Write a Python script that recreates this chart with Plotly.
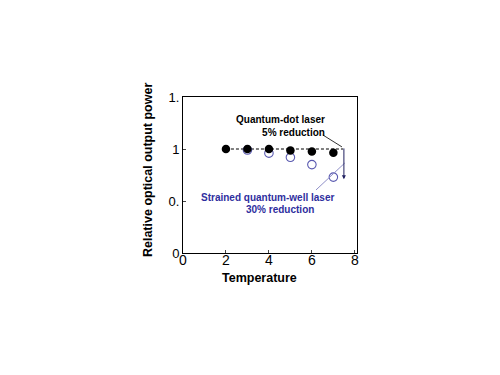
import plotly.graph_objects as go

temps_dot = [2, 3, 4, 5, 6, 7]
power_dot = [1.0, 1.0, 1.0, 0.985, 0.975, 0.965]
temps_well = [3, 4, 5, 6, 7]
power_well = [0.99, 0.96, 0.92, 0.85, 0.73]
x_ticks = [0, 2, 4, 6, 8]
y_ticks = [0, 0.5, 1, 1.5]
y_ticktext = ["0", "0.", "1", "1."]

fig = go.Figure()
fig.add_trace(go.Scatter(x=[2, 7.45], y=[1, 1], mode="lines",
                         line=dict(color="black", width=1, dash="3px,2px"),
                         hoverinfo="skip", showlegend=False))
fig.add_trace(go.Scatter(x=temps_well, y=power_well, mode="markers",
                         marker=dict(size=8.5, color="rgba(0,0,0,0)",
                                     line=dict(color="#5a5ab0", width=1.1)),
                         showlegend=False))
fig.add_trace(go.Scatter(x=temps_dot, y=power_dot, mode="markers",
                         marker=dict(size=8.5, color="black"),
                         showlegend=False))

font_b = "Liberation Sans, Arial, sans-serif"
fig.add_annotation(x=6.70, y=1.226, xref="x", yref="y",
                   text="<b>Quantum-dot laser</b><br><b>5% reduction</b>",
                   showarrow=False, xanchor="right", yanchor="middle", align="right",
                   font=dict(family=font_b, size=10, color="black"))
fig.add_annotation(x=3.93, y=0.538, xref="x", yref="y",
                   text="<b>Strained quantum-well laser</b>",
                   showarrow=False, xanchor="center", yanchor="middle",
                   font=dict(family=font_b, size=10, color="#2e2e9e"))
fig.add_annotation(x=4.51, y=0.423, xref="x", yref="y",
                   text="<b>30% reduction</b>",
                   showarrow=False, xanchor="center", yanchor="middle",
                   font=dict(family=font_b, size=10, color="#2e2e9e"))
# leader lines
fig.add_shape(type="line", xref="x", yref="y", x0=6.51, y0=1.135, x1=7.40, y1=1.02,
              line=dict(color="#333333", width=1))
fig.add_shape(type="line", xref="x", yref="y", x0=6.19, y0=0.606, x1=7.53, y1=0.865,
              line=dict(color="#9090c8", width=1))
# vertical arrow
fig.add_annotation(x=7.49, y=0.71, ax=7.49, ay=1.02, xref="x", yref="y",
                   axref="x", ayref="y", text="", showarrow=True,
                   arrowhead=2, arrowsize=0.8, arrowwidth=1, arrowcolor="#202060")

# axis titles
fig.add_annotation(x=-0.201, y=0.532, xref="paper", yref="paper",
                   text="<b>Relative optical output power</b>", textangle=-90,
                   showarrow=False, xanchor="center", yanchor="middle",
                   font=dict(family=font_b, size=12.5, color="black"))
fig.add_annotation(x=0.437, y=-0.160, xref="paper", yref="paper",
                   text="<b>Temperature</b>",
                   showarrow=False, xanchor="center", yanchor="middle",
                   font=dict(family=font_b, size=12.5, color="black"))

fig.update_layout(
    width=500, height=375,
    margin=dict(l=183, r=143, t=97, b=122),
    paper_bgcolor="white", plot_bgcolor="white",
    xaxis=dict(range=[0, 8.1], tickvals=x_ticks, ticks="inside", ticklen=3,
               ticklabelstandoff=-6,
               showgrid=False, zeroline=False, showline=True, mirror=True,
               linecolor="black", linewidth=1,
               tickfont=dict(family=font_b, size=14, color="black")),
    yaxis=dict(range=[0, 1.5], tickvals=y_ticks, ticktext=y_ticktext,
               ticks="inside", ticklen=3,
               showgrid=False, zeroline=False, showline=True, mirror=True,
               linecolor="black", linewidth=1,
               tickfont=dict(family=font_b, size=13, color="black")),
)
fig.write_html("out.html")
